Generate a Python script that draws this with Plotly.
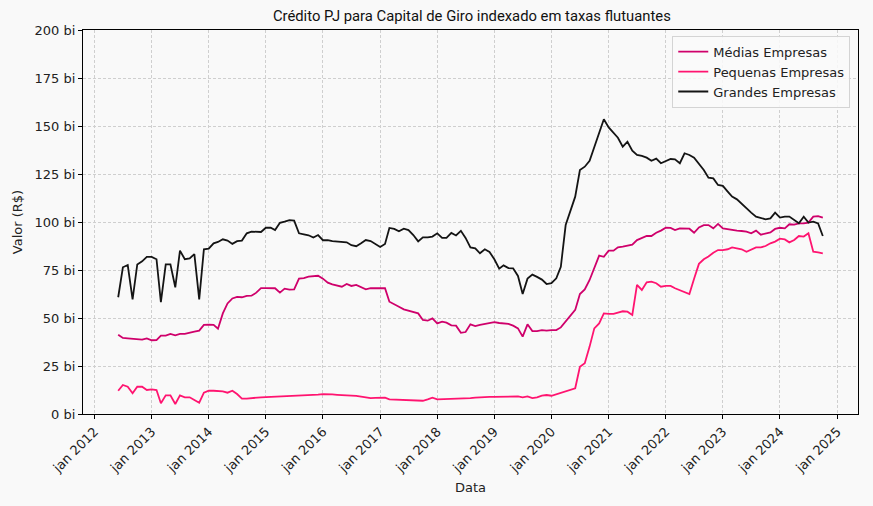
import pandas as pd
import plotly.graph_objects as go

# Monthly observations, Jun 2012 .. Oct 2024
months = pd.date_range("2012-06-01", "2024-10-01", freq="MS")

medias = [
    41.3, 39.6, 39.4, 39.2, 38.7, 38.7, 39.4, 38.4, 38.5, 40.8,
    40.8, 41.7, 41.0, 41.7, 41.7, 42.5, 42.9, 43.4, 46.4, 46.5,
    46.4, 44.4, 52.4, 57.6, 60.2, 61.0, 60.8, 61.5, 61.6, 63.2,
    65.6, 65.6, 65.5, 65.5, 63.2, 65.3, 64.8, 64.9, 70.5, 70.8,
    71.5, 71.9, 72.0, 70.5, 68.4, 67.5, 66.8, 66.3, 67.7, 66.7,
    67.2, 66.0, 64.9, 65.6, 65.6, 65.5, 65.5, 58.5, 57.3, 55.9,
    54.5, 53.8, 53.3, 52.4, 49.0, 48.6, 49.8, 47.2, 48.1, 47.6,
    46.2, 46.0, 42.3, 42.7, 46.7, 45.8, 46.4, 46.9, 47.0, 47.8,
    47.4, 47.2, 46.9, 46.0, 44.6, 40.3, 46.7, 43.2, 43.2, 43.7,
    43.4, 43.7, 43.7, 45.1, 48.1, 51.6, 54.2, 62.5, 64.9, 69.8,
    75.9, 82.5, 81.9, 85.1, 85.1, 86.8, 87.2, 87.5, 88.2, 90.6,
    91.5, 92.7, 92.7, 94.4, 95.5, 97.0, 96.9, 95.8, 96.7, 96.7,
    96.5, 94.4, 97.2, 98.4, 98.4, 96.7, 99.0, 96.7, 96.2, 95.8,
    95.5, 95.3, 95.0, 94.1, 95.5, 93.4, 93.8, 94.6, 96.4, 97.0,
    96.7, 98.8, 98.6, 99.3, 99.3, 99.7, 102.8, 103.1, 102.3,
]

pequenas = [
    12.1, 15.1, 14.2, 10.8, 14.2, 14.2, 12.5, 12.8, 12.5, 5.6,
    9.7, 9.7, 5.2, 9.7, 8.7, 8.7, 7.3, 5.9, 11.1, 12.1,
    12.1, 12.1, 11.8, 11.1, 12.1, 10.4, 8.0, 8.0, 8.3, 8.6,
    8.7, 8.8, 8.9, 9.0, 9.1, 9.2, 9.2, 9.3, 9.5, 9.6,
    9.8, 10.0, 10.1, 10.3, 10.4, 10.2, 10.0, 9.9, 9.7, 9.5,
    9.4, 9.0, 8.7, 8.3, 8.4, 8.5, 8.5, 7.6, 7.5, 7.6,
    7.4, 7.3, 7.3, 7.2, 6.9, 7.6, 8.5, 7.6, 7.7, 7.8,
    7.9, 8.0, 7.8, 8.0, 8.3, 8.5, 8.7, 8.9, 8.9, 8.9,
    8.9, 8.9, 9.0, 9.0, 9.2, 8.7, 9.2, 8.3, 8.7, 9.6,
    9.9, 9.5, 10.3, 11.1, 12.0, 12.5, 13.4, 24.6, 26.4, 35.1,
    44.6, 47.2, 52.4, 52.1, 52.1, 52.8, 53.5, 53.3, 51.6, 67.2,
    64.6, 68.6, 68.9, 68.1, 66.3, 66.7, 66.7, 65.5, 64.6, 63.7,
    62.5, 70.4, 78.2, 80.6, 82.0, 84.0, 85.4, 85.4, 85.8, 86.8,
    86.3, 85.8, 84.5, 85.8, 86.8, 86.8, 87.5, 88.9, 89.8, 91.3,
    90.9, 89.4, 90.6, 92.7, 92.4, 94.1, 84.5, 84.2, 83.7,
]

grandes = [
    60.8, 76.4, 77.6, 59.7, 77.9, 79.5, 81.8, 81.8, 80.6, 58.3,
    77.9, 77.9, 66.0, 85.1, 80.6, 81.0, 83.3, 59.7, 85.8, 86.1,
    88.9, 89.6, 91.0, 90.3, 88.6, 90.0, 90.3, 94.1, 95.0, 95.0,
    94.8, 97.0, 97.0, 95.8, 99.6, 100.2, 101.0, 100.7, 94.1, 93.6,
    93.1, 91.9, 93.2, 90.5, 90.6, 90.0, 89.8, 89.6, 89.4, 87.9,
    87.4, 88.9, 90.6, 90.1, 88.6, 87.0, 88.6, 96.9, 96.4, 95.2,
    96.5, 95.8, 93.2, 89.9, 92.0, 92.0, 92.4, 94.1, 91.7, 91.7,
    94.3, 93.0, 95.4, 91.7, 86.8, 86.3, 83.7, 85.8, 84.4, 80.6,
    75.7, 77.4, 76.0, 75.9, 71.9, 62.5, 70.5, 72.6, 71.4, 70.0,
    67.7, 68.1, 70.7, 76.7, 98.4, 106.3, 113.2, 127.1, 128.8, 131.9,
    139.2, 146.2, 153.5, 149.3, 146.5, 143.9, 139.2, 141.8, 137.2, 134.9,
    134.4, 133.5, 131.9, 133.0, 130.6, 131.8, 132.8, 132.6, 130.6, 135.8,
    134.9, 133.5, 130.5, 127.1, 123.1, 122.7, 119.3, 118.8, 115.8, 113.2,
    111.8, 109.4, 107.1, 104.9, 102.8, 101.9, 101.4, 101.9, 104.9, 102.3,
    102.8, 102.8, 101.0, 99.3, 102.8, 99.7, 100.2, 99.3, 92.7,
]

series_names = ["Médias Empresas", "Pequenas Empresas", "Grandes Empresas"]
series_colors = ["#cf006b", "#ff1470", "#141414"]

y_tick_vals = [0, 25, 50, 75, 100, 125, 150, 175, 200]
y_tick_text = ["0 bi", "25 bi", "50 bi", "75 bi", "100 bi", "125 bi", "150 bi", "175 bi", "200 bi"]

x_tick_vals = ["2012-01-01", "2013-01-01", "2014-01-01", "2015-01-01", "2016-01-01",
               "2017-01-01", "2018-01-01", "2019-01-01", "2020-01-01", "2021-01-01",
               "2022-01-01", "2023-01-01", "2024-01-01", "2025-01-01"]
x_tick_text = ["jan 2012", "jan 2013", "jan 2014", "jan 2015", "jan 2016", "jan 2017",
               "jan 2018", "jan 2019", "jan 2020", "jan 2021", "jan 2022", "jan 2023",
               "jan 2024", "jan 2025"]

BG = "#f9f9f9"
FONT = "DejaVu Sans"

fig = go.Figure()
for name, vals, col in zip(series_names, [medias, pequenas, grandes], series_colors):
    fig.add_trace(go.Scatter(
        x=months, y=vals, mode="lines", name=name,
        line=dict(color=col, width=1.8),
    ))

fig.update_layout(
    width=873, height=506,
    margin=dict(l=83, r=15, t=30, b=92),
    paper_bgcolor=BG, plot_bgcolor=BG,
    font=dict(family=FONT, size=13, color="#222222"),
    title=dict(
        text="Crédito PJ para Capital de Giro indexado em taxas flutuantes",
        x=0.5405, xanchor="center", y=0.968, yanchor="middle",
        font=dict(family="Roboto", size=14.8, color="#111111"),
    ),
    legend=dict(
        x=0.99, y=0.985, xanchor="right", yanchor="top",
        bgcolor="rgba(250,250,250,0.85)", bordercolor="#d4d4d4", borderwidth=1,
        font=dict(family=FONT, size=13, color="#222222"),
        tracegroupgap=0, itemwidth=30,
    ),
    showlegend=True,
)

grid_style = dict(showgrid=True, gridcolor="#cfcfcf", griddash="3px,2px", gridwidth=0.7)

fig.update_xaxes(
    range=["2011-10-20", "2025-05-14"],
    tickvals=x_tick_vals, ticktext=x_tick_text, tickangle=-45,
    showline=True, linecolor="black", linewidth=1, mirror=True,
    ticks="outside", ticklen=4, tickwidth=1, tickcolor="black",
    zeroline=False,
    title=dict(text="Data", standoff=8, font=dict(family=FONT, size=13)),
    tickfont=dict(family=FONT, size=13, color="#222222"),
    **grid_style,
)
fig.update_yaxes(
    range=[0, 200],
    tickvals=y_tick_vals, ticktext=y_tick_text,
    showline=True, linecolor="black", linewidth=1, mirror=True,
    ticks="outside", ticklen=4, tickwidth=1, tickcolor="black",
    zeroline=False,
    title=dict(text="Valor (R$)", standoff=9, font=dict(family=FONT, size=13)),
    tickfont=dict(family=FONT, size=13, color="#222222"),
    **grid_style,
)

fig.write_html("out.html")
